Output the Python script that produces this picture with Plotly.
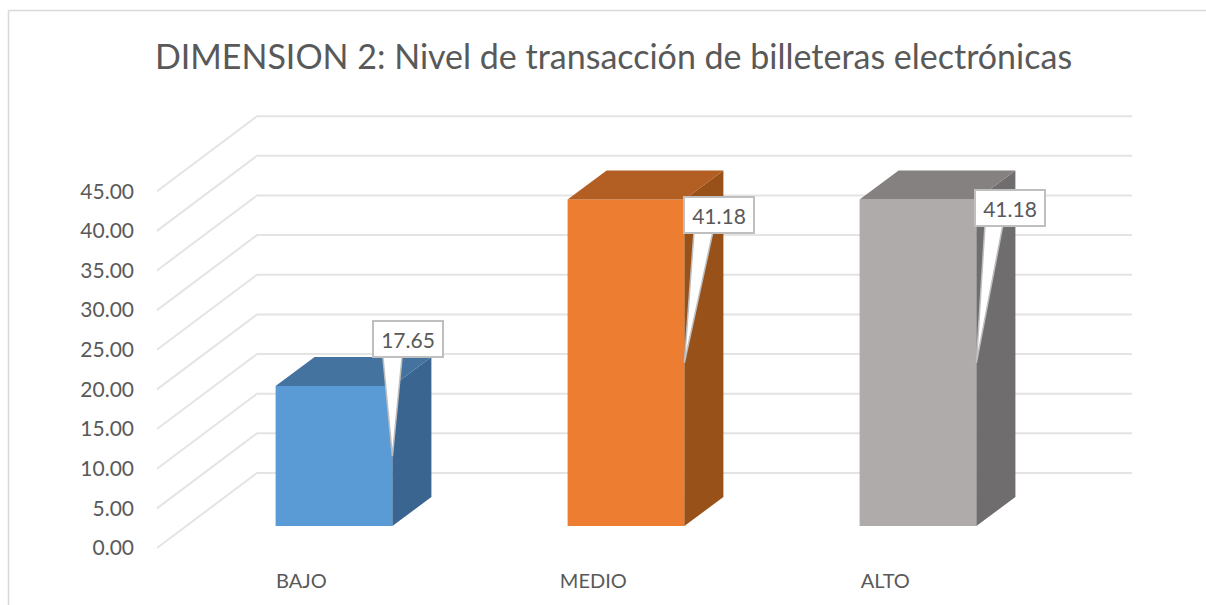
import plotly.graph_objects as go

# --- data ---
categories = ["BAJO", "MEDIO", "ALTO"]
values = [17.65, 41.18, 41.18]
value_labels = ["17.65", "41.18", "41.18"]
y_ticks = [0, 5, 10, 15, 20, 25, 30, 35, 40, 45]
title = "DIMENSION 2: Nivel de transacción de billeteras electrónicas"

# --- colours ---
front_colors = ["#5b9bd5", "#ed7d31", "#afabaa"]
top_colors = ["#44739f", "#b35e22", "#858180"]
side_colors = ["#3a6590", "#985119", "#6f6d6d"]
grid_color = "#e4e4e4"
text_color = "#595959"
callout_line = "#bfbfbf"

# --- oblique-projection geometry, in axis units ---
WALL_DX, WALL_DY = 0.3425, 9.46     # front plane to back wall
GRID_X0, GRID_X1 = -0.6062, 2.7329  # extent of the gridlines
BAR_BASE = 2.77                     # floor height of the front of the bars
BAR_W = 0.40
BAR_DX, BAR_DY = 0.1336, 3.66       # depth of a bar
LABEL_DX = [0.2534, 0.3168, 0.3151]
LABEL_Y = [26.3, 42.0, 42.9]
WEDGE_L = [0.1678, 0.2329, 0.2295]
WEDGE_R = [0.2329, 0.2979, 0.2911]
WEDGE_TOP = [24.0, 39.9, 40.8]
TICK_SHIFT = -0.112

fig = go.Figure()

# front faces
fig.add_trace(go.Bar(
    x=list(range(len(values))), y=values, base=BAR_BASE, width=BAR_W,
    marker=dict(color=front_colors, line=dict(width=0)), hoverinfo="skip",
))

# top and side faces
for i, v in enumerate(values):
    xl, xr = i - BAR_W / 2, i + BAR_W / 2
    yb, yt = BAR_BASE, BAR_BASE + v
    fig.add_trace(go.Scatter(
        x=[xr, xr + BAR_DX, xr + BAR_DX, xr, xr], y=[yb, yb + BAR_DY, yt + BAR_DY, yt, yb],
        mode="lines", fill="toself", fillcolor=side_colors[i], line=dict(width=0), hoverinfo="skip"))
    fig.add_trace(go.Scatter(
        x=[xl, xl + BAR_DX, xr + BAR_DX, xr, xl], y=[yt, yt + BAR_DY, yt + BAR_DY, yt, yt],
        mode="lines", fill="toself", fillcolor=top_colors[i], line=dict(width=0), hoverinfo="skip"))

# callout wedges, pointing at the middle of each bar's front edge
for i, v in enumerate(values):
    tip_x, tip_y = i + BAR_W / 2, BAR_BASE + v / 2
    fig.add_trace(go.Scatter(
        x=[i + WEDGE_L[i], tip_x, i + WEDGE_R[i]], y=[WEDGE_TOP[i], tip_y, WEDGE_TOP[i]],
        mode="lines", fill="toself", fillcolor="#ffffff",
        line=dict(color=callout_line, width=1.5), hoverinfo="skip"))

# gridlines: front plane -> back wall -> right end
shapes = []
for t in y_ticks:
    path = (f"M {GRID_X0} {t} L {GRID_X0 + WALL_DX} {t + WALL_DY} "
            f"L {GRID_X1} {t + WALL_DY}")
    shapes.append(dict(type="path", path=path, xref="x", yref="y", layer="below",
                       line=dict(color=grid_color, width=2)))

# outer chart frame
L, T, PW, PH = 150, 100, 986, 455
px = lambda p: (p - L) / PW
py = lambda p: (T + PH - p) / PH
frame = dict(color="#d9d9d9", width=1.5)
shapes.append(dict(type="line", xref="paper", yref="paper", x0=px(8.5), x1=px(8.5),
                   y0=py(10.5), y1=py(605), line=frame))
shapes.append(dict(type="line", xref="paper", yref="paper", x0=px(8.5), x1=px(1206),
                   y0=py(10.5), y1=py(10.5), line=frame))

annotations = [
    dict(x=i + LABEL_DX[i], y=LABEL_Y[i], xref="x", yref="y", text=value_labels[i],
         showarrow=False, width=68, height=34, bgcolor="#ffffff", bordercolor=callout_line,
         borderwidth=2, borderpad=0, font=dict(family="Lato", size=21, color=text_color))
    for i in range(len(values))
]

fig.update_layout(
    width=1206, height=605,
    margin=dict(l=L, r=1206 - L - PW, t=T, b=605 - T - PH, pad=0),
    paper_bgcolor="#ffffff", plot_bgcolor="rgba(0,0,0,0)",
    showlegend=False,
    title=dict(text=title, x=613.5 / 1206, y=1 - 57 / 605, xanchor="center", yanchor="middle",
               font=dict(family="Lato", size=34, color=text_color)),
    xaxis=dict(range=[-0.6301, 2.7466], showgrid=False, zeroline=False, showline=False,
               tickmode="array", tickvals=[i + TICK_SHIFT for i in range(len(categories))],
               ticktext=categories, ticks="", ticklabelstandoff=12,
               tickfont=dict(family="Lato", size=20, color=text_color)),
    yaxis=dict(range=[-0.883, 56.5], showgrid=False, zeroline=False, showline=False,
               tickmode="array", tickvals=y_ticks, ticktext=[f"{t:.2f}" for t in y_ticks],
               ticks="", ticklabelstandoff=15,
               tickfont=dict(family="Lato", size=21, color=text_color)),
    shapes=shapes, annotations=annotations,
)

fig.write_html("out.html", config=dict(displayModeBar=False),
               post_script="document.body.style.margin='0';document.body.style.overflow='hidden';")
